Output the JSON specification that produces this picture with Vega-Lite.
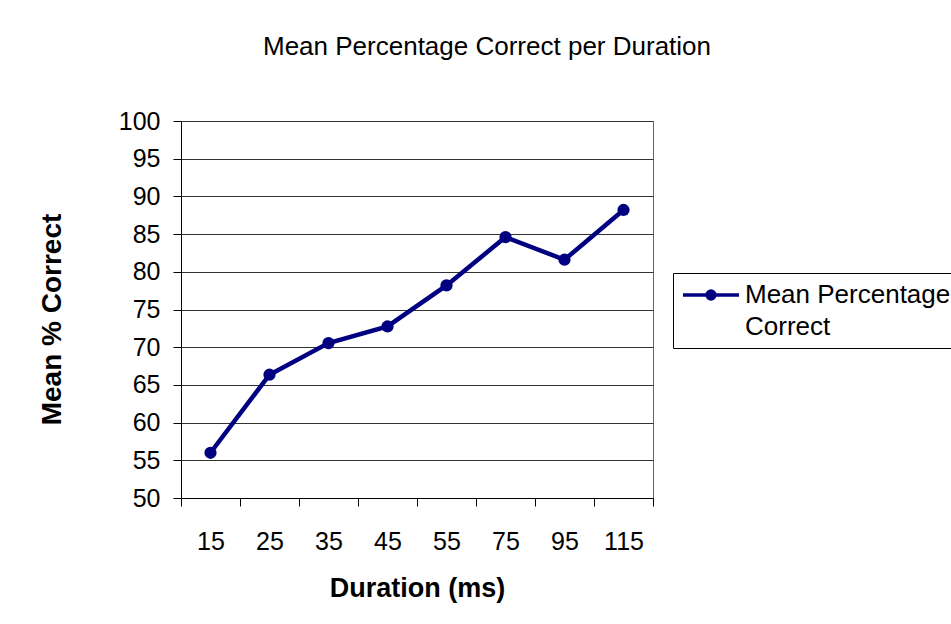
{
  "$schema": "https://vega.github.io/schema/vega-lite/v6.json",
  "width": 472,
  "height": 377,
  "autosize": "none",
  "padding": {"left": 181, "top": 121, "right": 298, "bottom": 126},
  "background": "white",
  "title": {
    "text": "Mean Percentage Correct per Duration",
    "anchor": "middle",
    "frame": "group",
    "dx": 70,
    "fontSize": 26,
    "fontWeight": "normal",
    "font": "Liberation Sans",
    "color": "black",
    "offset": 49
  },
  "config": {
    "font": "Liberation Sans",
    "view": {"stroke": "#666666", "strokeWidth": 1},
    "axis": {
      "labelFont": "Liberation Sans",
      "labelFontSize": 25,
      "labelColor": "black",
      "titleFont": "Liberation Sans",
      "titleFontSize": 27,
      "titleFontWeight": "bold",
      "titleColor": "black",
      "domainColor": "black",
      "tickColor": "black",
      "tickSize": 8,
      "gridColor": "#333333",
      "gridOpacity": 1
    }
  },
  "data": {
    "values": [
      {"duration": "15", "pct": 56.0},
      {"duration": "25", "pct": 66.35},
      {"duration": "35", "pct": 70.55},
      {"duration": "45", "pct": 72.75},
      {"duration": "55", "pct": 78.2},
      {"duration": "75", "pct": 84.6},
      {"duration": "95", "pct": 81.6},
      {"duration": "115", "pct": 88.2}
    ]
  },
  "mark": {"type": "line", "strokeWidth": 4.5, "point": {"filled": true, "size": 150, "opacity": 1}},
  "encoding": {
    "x": {
      "field": "duration",
      "type": "ordinal",
      "sort": null,
      "scale": {"paddingInner": 0, "paddingOuter": 0},
      "axis": {
        "title": "Duration (ms)",
        "labelAngle": 0,
        "tickBand": "extent",
        "grid": false,
        "labelPadding": 23,
        "titleBaseline": "alphabetic",
        "titleY": 98
      }
    },
    "y": {
      "field": "pct",
      "type": "quantitative",
      "scale": {"domain": [50, 100], "nice": false, "zero": false},
      "axis": {
        "title": "Mean % Correct",
        "titleFontSize": 28,
        "values": [50, 55, 60, 65, 70, 75, 80, 85, 90, 95, 100],
        "labelPadding": 13,
        "titleBaseline": "alphabetic",
        "titleX": -121,
        "titleY": 198,
        "grid": true
      }
    },
    "color": {
      "datum": "Mean Percentage Correct",
      "type": "nominal",
      "scale": {"range": ["#000080"]},
      "legend": {
        "title": null,
        "orient": "none",
        "legendX": 492,
        "legendY": 152,
        "strokeColor": "black",
        "fillColor": "white",
        "padding": 8,
        "symbolType": "M-1,0L1,0M-0.14,0A0.14,0.14,0,1,1,0.14,0A0.14,0.14,0,1,1,-0.14,0Z",
        "symbolSize": 3136,
        "symbolStrokeWidth": 3.5,
        "symbolStrokeColor": "#000080",
        "symbolFillColor": "#000080",
        "symbolOpacity": 1,
        "labelFont": "Liberation Sans",
        "labelFontSize": 26,
        "labelColor": "black",
        "labelLimit": 400,
        "labelOffset": 4,
        "labelExpr": "['Mean Percentage', 'Correct']",
        "encode": {
          "symbols": {"update": {"y": {"value": 14}}},
          "labels": {"update": {"lineHeight": {"value": 32}, "y": {"value": 14}, "baseline": {"value": "middle"}}}
        }
      }
    }
  }
}
